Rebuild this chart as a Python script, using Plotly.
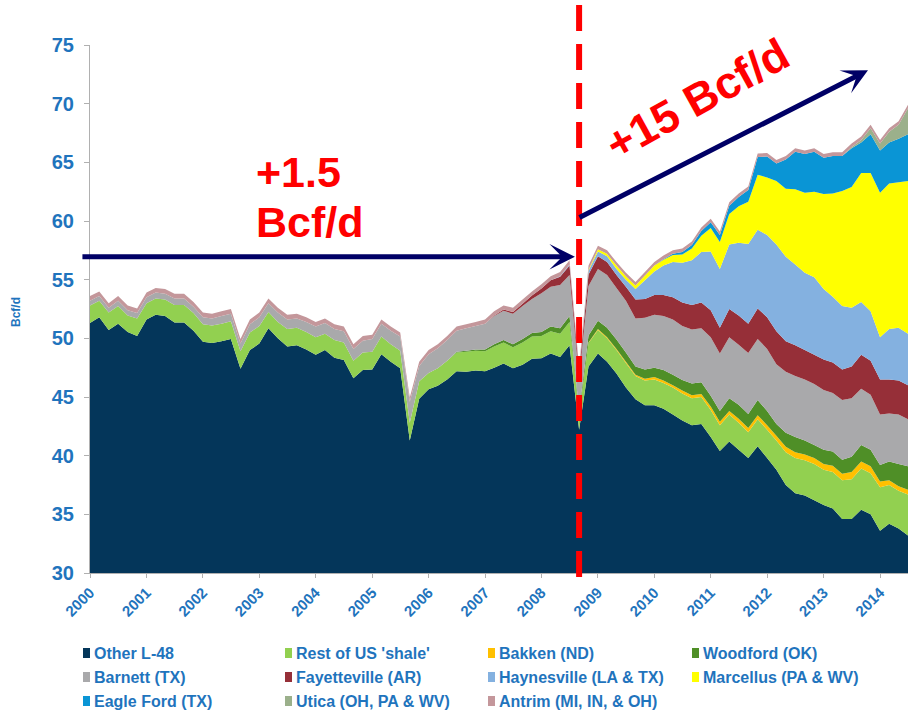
import plotly.graph_objects as go

# ---------------- data (Bcf/d, bimonthly samples) ----------------
years = list(range(2000, 2015))
months = [1, 3, 5, 7, 9, 11]
dates = [f"{y}-{m:02d}-01" for y in years for m in months if not (y == 2014 and m > 7)]

series_names = ["Other L-48", "Rest of US 'shale'", "Bakken (ND)", "Woodford (OK)",
                "Barnett (TX)", "Fayetteville (AR)", "Haynesville (LA & TX)", "Marcellus (PA & WV)",
                "Eagle Ford (TX)", "Utica (OH, PA & WV)", "Antrim (MI, IN, & OH)"]
series_colors = ["#04365a", "#92d050", "#ffc000", "#4f8f27", "#a9a9ab", "#962f38",
                 "#84b1e0", "#ffff00", "#0a95d5", "#9bb08b", "#c4979b"]

other_l48 = [
    51.3, 51.8, 50.7, 51.25, 50.55, 50.2,
    51.6, 52.0, 51.9, 51.35, 51.35, 50.65,
    49.7, 49.6, 49.75, 49.95, 47.4, 49.0,
    49.55, 50.85, 50.0, 49.3, 49.4, 49.05,
    48.6, 49.0, 48.35, 48.15, 46.6, 47.3,
    47.35, 48.65, 48.0, 47.45, 41.3, 44.85,
    45.65, 45.95, 46.5, 47.2, 47.15, 47.25,
    47.2, 47.5, 47.85, 47.45, 47.75, 48.25,
    48.3, 48.7, 48.4, 49.4, 42.2, 47.6,
    48.7, 48.0, 47.0, 45.8, 44.8, 44.3,
    44.3, 44.0, 43.5, 43.0, 42.6, 42.7,
    41.6, 40.4, 41.2, 40.5, 39.8, 40.8,
    39.8, 38.8, 37.5, 36.8, 36.6, 36.2,
    35.8, 35.5, 34.6, 34.6, 35.4, 35.0,
    33.6, 34.2, 33.8, 33.2]

rest_shale = [
    1.5, 1.4, 1.5, 1.5, 1.4, 1.5,
    1.4, 1.4, 1.4, 1.5, 1.5, 1.5,
    1.5, 1.5, 1.5, 1.5, 1.5, 1.5,
    1.5, 1.4, 1.4, 1.5, 1.5, 1.5,
    1.5, 1.4, 1.5, 1.5, 1.5, 1.5,
    1.5, 1.5, 1.5, 1.5, 1.5, 1.5,
    1.4, 1.5, 1.6, 1.6, 1.7, 1.7,
    1.7, 1.8, 1.8, 1.8, 1.9, 1.9,
    1.9, 1.9, 2.0, 2.0, 1.3, 2.0,
    2.0, 2.0, 2.0, 2.1, 2.0, 2.1,
    2.2, 2.2, 2.3, 2.3, 2.3, 2.3,
    2.3, 2.2, 2.3, 2.3, 2.2, 2.3,
    2.4, 2.5, 2.8, 3.0, 3.0, 3.1,
    3.0, 3.1, 3.3, 3.4, 3.5, 3.5,
    3.7, 3.3, 3.2, 3.5]

bakken = [
    0, 0, 0, 0, 0, 0,
    0, 0, 0, 0, 0, 0,
    0, 0, 0, 0, 0, 0,
    0, 0, 0, 0, 0, 0,
    0, 0, 0, 0, 0, 0,
    0, 0, 0, 0, 0, 0,
    0, 0, 0, 0, 0, 0,
    0, 0, 0, 0, 0, 0,
    0, 0, 0, 0, 0, 0.05,
    0.1, 0.1, 0.1, 0.1, 0.1, 0.15,
    0.2, 0.2, 0.2, 0.25, 0.25, 0.25,
    0.3, 0.3, 0.3, 0.35, 0.35, 0.35,
    0.4, 0.4, 0.45, 0.5, 0.5, 0.5,
    0.5, 0.55, 0.55, 0.6, 0.6, 0.6,
    0.5, 0.4, 0.4, 0.4]

woodford = [
    0, 0, 0, 0, 0, 0,
    0, 0, 0, 0, 0, 0,
    0, 0, 0, 0, 0, 0,
    0, 0, 0, 0, 0, 0,
    0, 0, 0, 0, 0, 0,
    0, 0, 0, 0, 0, 0,
    0, 0, 0, 0.05, 0.1, 0.1,
    0.15, 0.2, 0.2, 0.25, 0.3, 0.3,
    0.35, 0.4, 0.45, 0.5, 0.3, 0.6,
    0.7, 0.8, 0.8, 0.8, 0.7, 0.8,
    0.8, 0.9, 0.9, 0.9, 1.0, 1.0,
    0.9, 0.9, 1.1, 1.2, 1.2, 1.3,
    1.2, 1.0, 1.2, 1.3, 1.2, 1.1,
    1.2, 1.2, 1.2, 1.3, 1.4, 1.4,
    1.4, 1.6, 1.9, 2.0]

barnett = [
    0.4, 0.4, 0.4, 0.45, 0.45, 0.45,
    0.5, 0.5, 0.5, 0.55, 0.55, 0.55,
    0.6, 0.6, 0.65, 0.65, 0.65, 0.7,
    0.75, 0.75, 0.8, 0.8, 0.8, 0.85,
    0.9, 0.9, 0.95, 0.95, 1.0, 1.0,
    1.1, 1.1, 1.15, 1.2, 1.8, 1.3,
    1.6, 1.7, 1.75, 1.8, 1.9, 2.0,
    2.2, 2.4, 2.5, 2.6, 2.8, 2.9,
    3.3, 3.4, 3.7, 3.5, 2.8, 4.2,
    4.4, 4.5, 4.4, 4.4, 4.1, 4.4,
    4.5, 4.6, 4.7, 4.6, 4.6, 4.6,
    5.0, 4.9, 5.2, 5.1, 5.2, 5.2,
    5.3, 5.1, 5.2, 5.2, 5.2, 5.2,
    5.1, 5.0, 5.1, 5.0, 4.8, 4.7,
    4.3, 4.1, 4.2, 4.0]

fayetteville = [
    0, 0, 0, 0, 0, 0,
    0, 0, 0, 0, 0, 0,
    0, 0, 0, 0, 0, 0,
    0, 0, 0, 0, 0, 0,
    0, 0, 0, 0, 0, 0,
    0, 0, 0, 0, 0, 0,
    0, 0, 0, 0, 0, 0,
    0, 0.05, 0.1, 0.15, 0.2, 0.3,
    0.4, 0.55, 0.7, 0.8, 0.5, 1.0,
    1.1, 1.1, 1.1, 1.2, 1.6, 1.6,
    1.7, 1.8, 1.9, 2.0, 2.1, 2.2,
    2.3, 2.2, 2.4, 2.5, 2.5, 2.6,
    2.7, 2.8, 2.6, 2.6, 2.5, 2.5,
    2.6, 2.6, 2.6, 2.7, 2.9, 2.9,
    3.0, 2.9, 2.9, 2.9]

haynesville = [
    0, 0, 0, 0, 0, 0,
    0, 0, 0, 0, 0, 0,
    0, 0, 0, 0, 0, 0,
    0, 0, 0, 0, 0, 0,
    0, 0, 0, 0, 0, 0,
    0, 0, 0, 0, 0, 0,
    0, 0, 0, 0, 0, 0,
    0, 0, 0, 0, 0, 0,
    0, 0, 0.05, 0.1, 0.1, 0.3,
    0.4, 0.5, 0.5, 0.6, 0.9, 1.6,
    2.0, 2.5, 3.0, 3.4, 3.8, 4.3,
    5.0, 5.0, 5.5, 6.2, 6.8, 6.7,
    7.0, 7.4, 7.2, 6.9, 6.6, 6.6,
    6.0, 5.6, 5.4, 5.0, 4.5, 4.2,
    3.6, 4.3, 4.5, 4.4]

marcellus = [
    0, 0, 0, 0, 0, 0,
    0, 0, 0, 0, 0, 0,
    0, 0, 0, 0, 0, 0,
    0, 0, 0, 0, 0, 0,
    0, 0, 0, 0, 0, 0,
    0, 0, 0, 0, 0, 0,
    0, 0, 0, 0, 0, 0,
    0, 0, 0, 0, 0, 0,
    0, 0, 0, 0, 0, 0.1,
    0.2, 0.2, 0.3, 0.3, 0.3, 0.4,
    0.5, 0.5, 0.6, 0.7, 1.0, 1.4,
    2.0, 2.3, 2.6, 3.1, 3.6, 4.7,
    4.9, 5.4, 5.8, 6.4, 6.8, 7.3,
    8.1, 8.8, 9.8, 10.3, 11.0, 11.8,
    12.3, 12.4, 12.4, 13.0]

eagle_ford = [
    0, 0, 0, 0, 0, 0,
    0, 0, 0, 0, 0, 0,
    0, 0, 0, 0, 0, 0,
    0, 0, 0, 0, 0, 0,
    0, 0, 0, 0, 0, 0,
    0, 0, 0, 0, 0, 0,
    0, 0, 0, 0, 0, 0,
    0, 0, 0, 0, 0, 0,
    0, 0, 0, 0, 0, 0,
    0, 0, 0, 0, 0, 0,
    0, 0.05, 0.1, 0.2, 0.3, 0.4,
    0.5, 0.6, 0.7, 0.8, 1.0, 1.5,
    1.8, 1.5, 2.5, 3.2, 3.3, 3.4,
    3.1, 3.2, 3.0, 3.3, 2.6, 3.3,
    3.6, 3.5, 3.7, 4.0]

utica = [
    0, 0, 0, 0, 0, 0,
    0, 0, 0, 0, 0, 0,
    0, 0, 0, 0, 0, 0,
    0, 0, 0, 0, 0, 0,
    0, 0, 0, 0, 0, 0,
    0, 0, 0, 0, 0, 0,
    0, 0, 0, 0, 0, 0,
    0, 0, 0, 0, 0, 0,
    0, 0, 0, 0, 0, 0,
    0, 0, 0, 0, 0, 0,
    0, 0, 0, 0, 0, 0,
    0, 0, 0, 0, 0, 0,
    0, 0, 0, 0, 0, 0,
    0, 0, 0, 0.1, 0.2, 0.5,
    0.6, 0.9, 1.2, 2.2]

antrim = [
    0.4, 0.4, 0.4, 0.4, 0.4, 0.4,
    0.4, 0.4, 0.4, 0.4, 0.4, 0.4,
    0.4, 0.4, 0.4, 0.4, 0.4, 0.4,
    0.4, 0.4, 0.4, 0.4, 0.4, 0.4,
    0.4, 0.4, 0.4, 0.4, 0.4, 0.4,
    0.35, 0.35, 0.35, 0.35, 0.35, 0.35,
    0.35, 0.35, 0.35, 0.35, 0.35, 0.35,
    0.35, 0.35, 0.35, 0.35, 0.35, 0.35,
    0.35, 0.35, 0.35, 0.35, 0.35, 0.35,
    0.3, 0.3, 0.3, 0.3, 0.3, 0.3,
    0.3, 0.3, 0.3, 0.3, 0.3, 0.3,
    0.3, 0.3, 0.3, 0.3, 0.3, 0.3,
    0.3, 0.3, 0.3, 0.3, 0.3, 0.3,
    0.3, 0.3, 0.3, 0.3, 0.3, 0.3,
    0.3, 0.3, 0.3, 0.3]

series_values = [other_l48, rest_shale, bakken, woodford, barnett, fayetteville,
                 haynesville, marcellus, eagle_ford, utica, antrim]

y_ticks = [30, 35, 40, 45, 50, 55, 60, 65, 70, 75]

# ---------------- styling ----------------
W, H = 908, 714
ML, MR, MT, MB = 90, 0, 45, 141
PW, PH = W - ML - MR, H - MT - MB
BLUE = "#1f74bd"
NAVY = "#000066"
RED = "#ff0000"
SANS = "Liberation Sans, Arial, sans-serif"


def px_x(px):
    return (px - ML) / PW


def px_y(py):
    return (H - MB - py) / PH


fig = go.Figure()
for name, color, vals in zip(series_names, series_colors, series_values):
    fig.add_trace(go.Scatter(
        x=dates, y=vals, name=name, mode="none", stackgroup="one",
        fillcolor=color, line=dict(width=0), showlegend=False,
        hovertemplate=name + ": %{y:.1f} Bcf/d<extra></extra>"))

annotations = []
shapes = []

# red dashed divider
shapes.append(dict(type="line", xref="x", yref="paper", x0="2008-09-01", x1="2008-09-01",
                   y0=px_y(5), y1=px_y(579), line=dict(color=RED, width=6, dash="26px,13px")))

# horizontal arrow (2000 -> 2008)
annotations.append(dict(xref="x", yref="y", x="2008-08-05", y=56.95, ax=-494, ay=0,
                        axref="pixel", ayref="pixel", text="", showarrow=True,
                        arrowhead=3, arrowsize=0.85, arrowwidth=5, arrowcolor=NAVY))
# diagonal arrow (2008 -> 2014)
annotations.append(dict(xref="x", yref="y", x="2013-10-15", y=72.85, ax=-290, ay=148,
                        axref="pixel", ayref="pixel", text="", showarrow=True,
                        arrowhead=3, arrowsize=0.85, arrowwidth=5, arrowcolor=NAVY))

# growth labels
annotations.append(dict(xref="paper", yref="paper", x=px_x(255), y=px_y(172),
                        xanchor="left", yanchor="middle", showarrow=False, borderpad=0,
                        text="<b>+1.5</b>", font=dict(family=SANS, size=43, color=RED)))
annotations.append(dict(xref="paper", yref="paper", x=px_x(255), y=px_y(222),
                        xanchor="left", yanchor="middle", showarrow=False, borderpad=0,
                        text="<b>Bcf/d</b>", font=dict(family=SANS, size=43, color=RED)))
annotations.append(dict(xref="paper", yref="paper", x=px_x(697), y=px_y(100),
                        xanchor="center", yanchor="middle", showarrow=False, textangle=-29,
                        text="<b>+15 Bcf/d</b>",
                        font=dict(family=SANS, size=45, color=RED)))

# axis title
annotations.append(dict(xref="paper", yref="paper", x=px_x(16), y=px_y(312),
                        xanchor="center", yanchor="middle", showarrow=False, textangle=-90,
                        text="<b>Bcf/d</b>", font=dict(family=SANS, size=12, color=BLUE)))

# legend (3 rows x 4 columns)
col_x = [83, 285, 488, 692]
row_y = [653, 677, 701]
for i, (name, color) in enumerate(zip(series_names, series_colors)):
    r, c = divmod(i, 4)
    x0 = col_x[c]
    yc = row_y[r]
    shapes.append(dict(type="rect", xref="paper", yref="paper",
                       x0=px_x(x0), x1=px_x(x0 + 7), y0=px_y(yc + 5), y1=px_y(yc - 5),
                       fillcolor=color, line=dict(width=0)))
    annotations.append(dict(xref="paper", yref="paper", x=px_x(x0 + 9), y=px_y(yc),
                            xanchor="left", yanchor="middle", showarrow=False, text=name,
                            font=dict(family=SANS, size=16, color=BLUE, weight="bold")))

fig.update_layout(
    width=W, height=H,
    margin=dict(l=ML, r=MR, t=MT, b=MB),
    paper_bgcolor="white", plot_bgcolor="white",
    showlegend=False,
    xaxis=dict(type="date", range=["2000-01-01", "2014-07-01"],
               tick0="2000-01-01", dtick="M12", tickformat="%Y", tickangle=-45,
               ticks="outside", ticklen=4, tickcolor="#b0b0b0",
               showline=True, linecolor="#b0b0b0", linewidth=1,
               showgrid=False, zeroline=False,
               tickfont=dict(family=SANS, size=15, color=BLUE, weight="bold")),
    yaxis=dict(range=[30, 75], tickvals=y_ticks,
               ticks="outside", ticklen=5, tickcolor="#b0b0b0",
               showline=True, linecolor="#b0b0b0", linewidth=1,
               showgrid=False, zeroline=False, ticklabelstandoff=6,
               tickfont=dict(family=SANS, size=20, color=BLUE, weight="bold")),
    annotations=annotations,
    shapes=shapes,
)

fig.write_html("out.html", config={"displayModeBar": False},
               post_script="document.body.style.margin='0';")
